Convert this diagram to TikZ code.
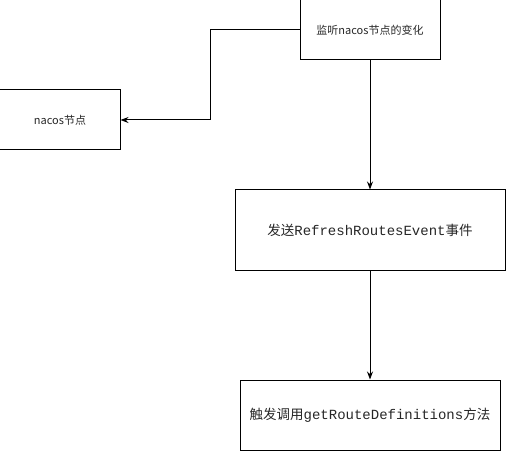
\documentclass[tikz,border=0pt]{standalone}
\usepackage{fontspec}
\newfontfamily\cjk{Noto Sans CJK SC}
\setmonofont{Liberation Mono}
\usetikzlibrary{arrows.meta}

\tikzset{
	box/.style={draw=black, line width=1bp, rectangle, inner sep=0pt, text=black!85},
	small/.style={font=\cjk\fontsize{11bp}{13bp}\selectfont},
	big/.style={font=\cjk\fontsize{13.5bp}{16bp}\selectfont},
	link/.style={draw=black, line width=1bp, -{Stealth[length=8bp,width=6bp]}}
}

\begin{document}
\begin{tikzpicture}[x=1bp, y=-1bp]
	\useasboundingbox (0,0) rectangle (506,451);
	\def \mid{ 370 };

	\node[box, small, minimum width=140bp, minimum height=60bp] (watch) at (\mid,30) {监听nacos节点的变化};
	\node[box, small, minimum width=120bp, minimum height=60bp] (nacos) at (60,120) {nacos节点};
	\node[box, big, minimum width=270bp, minimum height=80bp] (event) at (\mid,230) {发送{\ttfamily\fontsize{14bp}{16bp}\selectfont RefreshRoutesEvent}事件};
	\node[box, big, minimum width=260bp, minimum height=70bp] (call) at (\mid,415) {触发调用{\ttfamily\fontsize{14bp}{16bp}\selectfont getRouteDefinitions}方法};

	\coordinate (bend1) at (210,30);
	\coordinate (bend2) at (210,120);

	\draw[link] (watch.west) -- (bend1) -- (bend2) -- (nacos.east);
	\draw[link] (watch.south) -- (event.north);
	\draw[link] (event.south) -- (call.north);
\end{tikzpicture}
\end{document}
